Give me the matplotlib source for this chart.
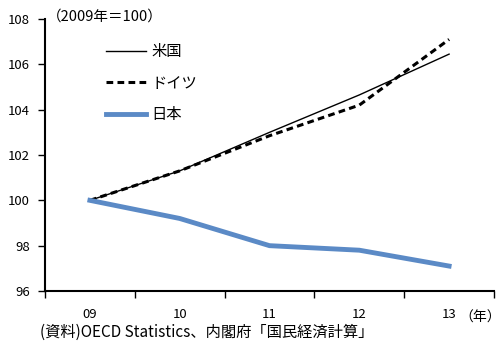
import matplotlib.pyplot as plt
import numpy as np

plt.rcParams["font.family"] = ["Noto Sans CJK JP", "DejaVu Sans"]
plt.rcParams["font.size"] = 9.5

years = ["09", "10", "11", "12", "13"]
us = [100.0, 101.3, 103.0, 104.65, 106.45]
germany = [100.0, 101.3, 102.85, 104.2, 107.1]
japan = [100.0, 99.2, 98.0, 97.8, 97.1]

fig = plt.figure(figsize=(5.01, 3.45), dpi=100)
ax = fig.add_axes([45 / 501, 54 / 345, 449 / 501, 272 / 345])

x = np.arange(len(years))
ax.plot(x, us, color="black", lw=1.0, label="米国")
ax.plot(x, germany, color="black", lw=2.2, ls=(0, (2.2, 1.4)), label="ドイツ")
ax.plot(x, japan, color="#5b8ac6", lw=3.5, label="日本")

ax.set_xlim(-0.5, len(years) - 0.5)
ax.set_ylim(96, 108)
ax.set_yticks(np.arange(96, 109, 2))
ax.set_xticks(x)
ax.set_xticklabels(years)
ax.set_xticks(np.arange(-0.5, len(years), 1), minor=True)
ax.tick_params(axis="x", which="major", length=0, pad=12)
ax.tick_params(axis="x", which="minor", length=5, width=1, direction="out")
ax.tick_params(axis="y", length=5, width=1, direction="out", pad=6)

for side in ("top", "right"):
    ax.spines[side].set_visible(False)
for side in ("left", "bottom"):
    ax.spines[side].set_linewidth(1.5)

ax.legend(loc="upper left", bbox_to_anchor=(0.105, 0.962), frameon=False,
          handlelength=2.6, handletextpad=0.4, labelspacing=0.95, fontsize=11)

fig.text(47 / 501, 1 - 17 / 345, "（2009年＝100）", fontsize=10.5, va="center", ha="left")
fig.text(459 / 501, 1 - 318 / 345, "（年）", fontsize=10, va="center", ha="left")
fig.text(40 / 501, 1 - 332 / 345, "(資料)OECD Statistics、内閣府「国民経済計算」",
         fontsize=11, va="center", ha="left")

fig.savefig("out.png", dpi=100)
